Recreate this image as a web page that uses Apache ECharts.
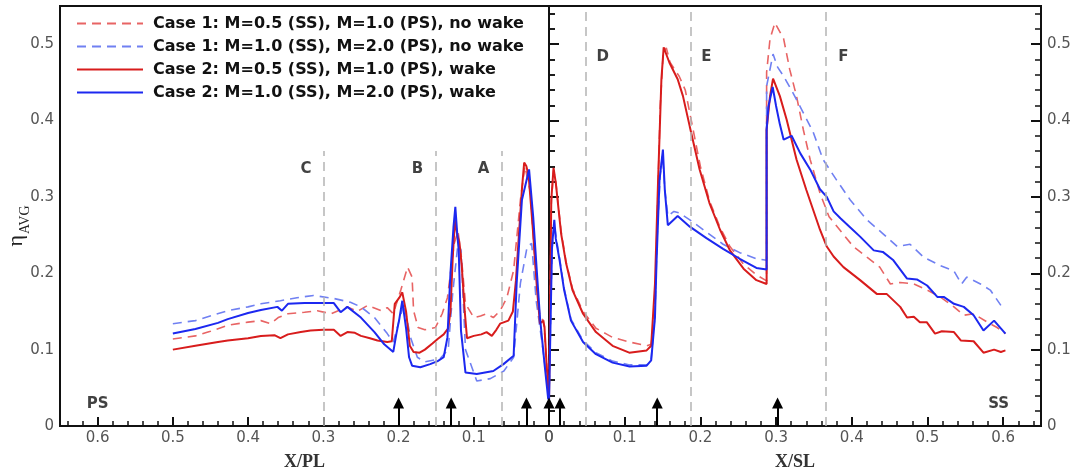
<!DOCTYPE html>
<html><head><meta charset="utf-8">
<script src="https://cdn.jsdelivr.net/npm/echarts/dist/echarts.min.js"></script>
<style>html,body{margin:0;padding:0;background:#fff}#c{width:1076px;height:473px}</style>
</head><body><div id="c"></div>
<script>
// ---------- DATA ----------
const seriesNames = [
  'Case 1: M=0.5 (SS), M=1.0 (PS), no wake',
  'Case 1: M=1.0 (SS), M=2.0 (PS), no wake',
  'Case 2: M=0.5 (SS), M=1.0 (PS), wake',
  'Case 2: M=1.0 (SS), M=2.0 (PS), wake'
];
// Pressure side (X/PL), [x, eta]
const psCase1M05 = [[0.5,0.114],[0.47,0.118],[0.45,0.124],[0.427,0.132],[0.40,0.136],[0.383,0.138],[0.37,0.134],[0.36,0.142],[0.347,0.147],[0.325,0.149],[0.308,0.151],[0.29,0.147],[0.268,0.156],[0.255,0.150],[0.241,0.158],[0.223,0.151],[0.215,0.155],[0.207,0.147],[0.197,0.178],[0.188,0.208],[0.182,0.195],[0.18,0.151],[0.174,0.129],[0.165,0.126],[0.151,0.129],[0.142,0.147],[0.135,0.168],[0.126,0.239],[0.121,0.255],[0.117,0.227],[0.111,0.16],[0.10,0.142],[0.091,0.144],[0.083,0.147],[0.074,0.142],[0.065,0.151],[0.056,0.168],[0.047,0.204],[0.038,0.296],[0.032,0.34],[0.025,0.307],[0.019,0.22],[0.012,0.142],[0.007,0.138],[0.003,0.08],[0,0.04]];
const psCase1M10 = [[0.5,0.134],[0.47,0.138],[0.427,0.151],[0.40,0.156],[0.383,0.160],[0.357,0.164],[0.335,0.168],[0.313,0.171],[0.286,0.167],[0.264,0.162],[0.25,0.156],[0.232,0.142],[0.215,0.121],[0.207,0.110],[0.2,0.135],[0.193,0.16],[0.184,0.116],[0.175,0.09],[0.165,0.084],[0.145,0.088],[0.134,0.1],[0.128,0.174],[0.121,0.239],[0.117,0.23],[0.111,0.1],[0.096,0.059],[0.078,0.062],[0.06,0.072],[0.047,0.09],[0.038,0.187],[0.029,0.235],[0.023,0.239],[0.017,0.164],[0.008,0.1],[0,0.037]];
const psCase2M05 = [[0.5,0.100],[0.47,0.105],[0.44,0.110],[0.427,0.112],[0.40,0.115],[0.383,0.118],[0.365,0.119],[0.357,0.115],[0.347,0.120],[0.33,0.123],[0.317,0.125],[0.30,0.126],[0.286,0.126],[0.277,0.118],[0.268,0.123],[0.258,0.122],[0.25,0.118],[0.238,0.115],[0.228,0.112],[0.215,0.110],[0.209,0.111],[0.205,0.160],[0.199,0.168],[0.195,0.175],[0.19,0.150],[0.185,0.105],[0.18,0.097],[0.172,0.096],[0.165,0.100],[0.155,0.108],[0.148,0.114],[0.14,0.120],[0.134,0.128],[0.131,0.150],[0.128,0.22],[0.125,0.27],[0.122,0.25],[0.119,0.24],[0.116,0.21],[0.112,0.15],[0.109,0.115],[0.10,0.118],[0.09,0.120],[0.083,0.123],[0.076,0.118],[0.07,0.126],[0.065,0.134],[0.054,0.138],[0.048,0.15],[0.044,0.19],[0.040,0.25],[0.036,0.31],[0.033,0.345],[0.030,0.340],[0.027,0.327],[0.024,0.29],[0.021,0.252],[0.016,0.18],[0.012,0.134],[0.008,0.138],[0.006,0.13],[0.003,0.077],[0.0,0.037]];
const psCase2M10 = [[0.5,0.121],[0.47,0.127],[0.44,0.135],[0.427,0.140],[0.40,0.148],[0.383,0.152],[0.361,0.156],[0.355,0.151],[0.347,0.160],[0.325,0.161],[0.304,0.161],[0.286,0.161],[0.277,0.149],[0.268,0.156],[0.25,0.142],[0.232,0.123],[0.219,0.107],[0.207,0.097],[0.203,0.12],[0.199,0.14],[0.195,0.164],[0.19,0.128],[0.186,0.09],[0.182,0.079],[0.171,0.077],[0.158,0.081],[0.148,0.085],[0.14,0.090],[0.135,0.116],[0.131,0.20],[0.127,0.26],[0.1245,0.287],[0.122,0.252],[0.12,0.23],[0.117,0.125],[0.111,0.070],[0.096,0.068],[0.085,0.070],[0.074,0.072],[0.0605,0.081],[0.047,0.092],[0.043,0.187],[0.036,0.296],[0.0265,0.336],[0.021,0.274],[0.016,0.2],[0.012,0.142],[0.0055,0.077],[0.001,0.035]];
// Suction side (X/SL), [x, eta]
const ssCase1M05 = [[0,0.035],[0.003,0.29],[0.006,0.335],[0.009,0.32],[0.016,0.255],[0.0226,0.215],[0.031,0.18],[0.045,0.15],[0.062,0.128],[0.075,0.121],[0.084,0.116],[0.1065,0.11],[0.129,0.105],[0.135,0.107],[0.14,0.151],[0.143,0.274],[0.147,0.42],[0.151,0.49],[0.155,0.495],[0.16,0.476],[0.172,0.458],[0.18,0.44],[0.19,0.39],[0.2,0.34],[0.212,0.295],[0.226,0.26],[0.239,0.235],[0.257,0.212],[0.274,0.198],[0.2875,0.19],[0.2875,0.463],[0.292,0.507],[0.2985,0.528],[0.31,0.507],[0.318,0.467],[0.327,0.432],[0.336,0.388],[0.345,0.349],[0.358,0.305],[0.37,0.274],[0.384,0.257],[0.402,0.235],[0.42,0.221],[0.437,0.208],[0.451,0.186],[0.464,0.188],[0.482,0.186],[0.4995,0.178],[0.517,0.169],[0.535,0.156],[0.548,0.145],[0.561,0.147],[0.579,0.136],[0.592,0.129],[0.603,0.121]];
const ssCase1M10 = [[0,0.035],[0.004,0.23],[0.007,0.265],[0.009,0.25],[0.014,0.22],[0.02,0.18],[0.029,0.14],[0.045,0.112],[0.062,0.096],[0.084,0.085],[0.1065,0.08],[0.129,0.08],[0.135,0.088],[0.14,0.145],[0.143,0.25],[0.147,0.33],[0.15,0.355],[0.153,0.31],[0.157,0.275],[0.165,0.281],[0.172,0.279],[0.186,0.27],[0.208,0.254],[0.23,0.238],[0.252,0.227],[0.274,0.219],[0.2875,0.217],[0.2875,0.445],[0.296,0.487],[0.302,0.47],[0.31,0.458],[0.323,0.435],[0.336,0.41],[0.349,0.385],[0.362,0.349],[0.38,0.322],[0.398,0.296],[0.42,0.27],[0.441,0.252],[0.46,0.235],[0.477,0.238],[0.495,0.221],[0.517,0.21],[0.535,0.203],[0.545,0.186],[0.552,0.195],[0.57,0.186],[0.583,0.178],[0.597,0.158]];
const ssCase2M05 = [[0,0.033],[0.003,0.296],[0.006,0.338],[0.009,0.318],[0.016,0.252],[0.0226,0.213],[0.031,0.178],[0.045,0.147],[0.062,0.123],[0.084,0.105],[0.106,0.096],[0.129,0.099],[0.135,0.105],[0.14,0.186],[0.144,0.318],[0.1485,0.454],[0.1515,0.496],[0.159,0.476],[0.17,0.454],[0.177,0.432],[0.186,0.392],[0.199,0.336],[0.212,0.292],[0.226,0.257],[0.239,0.23],[0.257,0.206],[0.274,0.191],[0.2875,0.186],[0.2875,0.388],[0.292,0.432],[0.296,0.455],[0.305,0.432],[0.314,0.401],[0.327,0.349],[0.34,0.309],[0.358,0.257],[0.367,0.235],[0.376,0.222],[0.389,0.208],[0.411,0.191],[0.433,0.173],[0.446,0.173],[0.464,0.156],[0.473,0.142],[0.482,0.143],[0.49,0.136],[0.499,0.136],[0.51,0.121],[0.519,0.124],[0.535,0.123],[0.544,0.112],[0.561,0.111],[0.574,0.096],[0.588,0.100],[0.597,0.097],[0.603,0.099]];
const ssCase2M10 = [[0,0.03],[0.004,0.235],[0.007,0.27],[0.009,0.245],[0.014,0.217],[0.02,0.178],[0.029,0.138],[0.045,0.11],[0.062,0.094],[0.084,0.083],[0.1065,0.078],[0.129,0.079],[0.135,0.086],[0.14,0.142],[0.142,0.213],[0.146,0.322],[0.1505,0.362],[0.153,0.309],[0.157,0.263],[0.17,0.275],[0.186,0.261],[0.208,0.246],[0.23,0.232],[0.252,0.219],[0.274,0.207],[0.2875,0.205],[0.2875,0.388],[0.29,0.419],[0.2955,0.444],[0.3,0.419],[0.305,0.395],[0.31,0.375],[0.3205,0.38],[0.332,0.357],[0.345,0.336],[0.358,0.31],[0.367,0.3],[0.376,0.281],[0.385,0.272],[0.397,0.261],[0.411,0.248],[0.429,0.23],[0.441,0.228],[0.455,0.217],[0.473,0.193],[0.486,0.192],[0.4995,0.184],[0.513,0.169],[0.5215,0.169],[0.535,0.16],[0.548,0.156],[0.561,0.145],[0.574,0.125],[0.588,0.138],[0.603,0.121]];
// region boundaries and labels
const regionLinesPS = [0.3, 0.151, 0.063];
const regionLinesPSTop = 0.36;
const regionLinesSS = [0.048, 0.187, 0.366];
const regionLinesSSTop = 0.55;
const regionLabelsPS = [['C',0.323,0.336],['B',0.175,0.336],['A',0.087,0.336],['PS',0.6,0.029]];
const regionLabelsSS = [['D',0.071,0.483],['E',0.208,0.483],['F',0.389,0.483],['SS',0.594,0.029]];
// cooling hole locations (arrows)
const holesPS = [0.2, 0.13, 0.03];
const holesSS = [0, 0.0145, 0.143, 0.302];
const arrowTop = 0.03;
const xTicks = [0, 0.1, 0.2, 0.3, 0.4, 0.5, 0.6];
const yTicks = [0, 0.1, 0.2, 0.3, 0.4, 0.5];

// ---------- STYLES ----------
const colors = ['#e86464', '#7080f2', '#d81c1c', '#1c28f0'];
const dashed = [true, true, false, false];

function fmtTick(list) {
  return function (v) {
    for (const t of list) if (Math.abs(v - t) < 1e-6) return t === 0 ? '0' : t.toFixed(1);
    return '';
  };
}
const labelStyle = {color: '#555', fontSize: 15, fontFamily: 'DejaVu Sans, sans-serif'};
function xAxis(grid, inverse, name) {
  return {
    type: 'value', gridIndex: grid, min: 0, max: 0.65, interval: 0.1, inverse: inverse,
    axisLine: {show: true, lineStyle: {color: '#111', width: 2}},
    axisTick: {show: true, inside: true, length: 9, lineStyle: {color: '#111', width: 2}},
    minorTick: {show: true, splitNumber: 5, length: 5, lineStyle: {color: '#111', width: 1.5}},
    splitLine: {show: false}, minorSplitLine: {show: false},
    axisLabel: Object.assign({margin: 5, formatter: fmtTick(xTicks), showMaxLabel: false}, labelStyle),
    name: name, nameLocation: 'middle', nameGap: 27,
    nameTextStyle: {fontFamily: 'Liberation Serif, Times New Roman, serif', fontSize: 18, fontWeight: 'bold', color: '#333'}
  };
}
function yAxis(grid, pos, showLabel) {
  return {
    type: 'value', gridIndex: grid, position: pos, min: 0, max: 0.55, interval: 0.1,
    axisLine: {show: true, lineStyle: {color: '#111', width: 2}},
    axisTick: {show: true, inside: true, length: 10, lineStyle: {color: '#111', width: 2}},
    minorTick: {show: true, splitNumber: 5, length: 6, lineStyle: {color: '#111', width: 1.5}},
    splitLine: {show: false}, minorSplitLine: {show: false},
    axisLabel: Object.assign({show: showLabel, margin: 6, formatter: fmtTick(yTicks), showMaxLabel: false}, labelStyle)
  };
}

const psData = [psCase1M05, psCase1M10, psCase2M05, psCase2M10];
const ssData = [ssCase1M05, ssCase1M10, ssCase2M05, ssCase2M10];
const series = [];
for (let i = 0; i < 4; i++) {
  const ls = {color: colors[i], width: dashed[i] ? 1.6 : 2, type: dashed[i] ? [9, 6] : 'solid'};
  series.push({name: seriesNames[i], type: 'line', xAxisIndex: 0, yAxisIndex: 0, data: psData[i],
    symbol: 'none', showSymbol: false, lineStyle: ls, itemStyle: {color: colors[i]}, z: dashed[i] ? 2 : 3, animation: false});
  series.push({name: seriesNames[i], type: 'line', xAxisIndex: 1, yAxisIndex: 1, data: ssData[i],
    symbol: 'none', showSymbol: false, lineStyle: ls, itemStyle: {color: colors[i]}, z: dashed[i] ? 2 : 3, animation: false});
}
function annot(xIdx, yIdx, labels, lines, top, holes) {
  return {
    type: 'scatter', xAxisIndex: xIdx, yAxisIndex: yIdx, clip: false, animation: false, silent: true, z: 5,
    data: labels.map(l => ({name: l[0], value: [l[1], l[2]]})),
    symbolSize: 1, itemStyle: {color: 'rgba(0,0,0,0)'},
    label: {show: true, position: 'inside', formatter: p => p.name, color: '#111', fontSize: 15, fontWeight: 'bold',
      fontFamily: 'DejaVu Sans, sans-serif'},
    markLine: {
      silent: true, animation: false, symbol: ['none', 'none'], label: {show: false},
      lineStyle: {color: '#b4b4b4', type: [9, 6], width: 1.5},
      data: lines.map(x => [{coord: [x, 0]}, {coord: [x, top]}]).concat(
        holes.map(x => [{coord: [x, 0], lineStyle: {color: '#000', type: 'solid', width: 2}, symbol: 'none'},
                        {coord: [x, arrowTop], symbol: 'triangle', symbolSize: [11, 11]}]))
    }
  };
}
series.push(annot(0, 0, regionLabelsPS, regionLinesPS, regionLinesPSTop, holesPS));
series.push(annot(1, 1, regionLabelsSS, regionLinesSS, regionLinesSSTop, holesSS));

const chart = echarts.init(document.getElementById('c'), null, {renderer: 'canvas'});
chart.setOption({
  backgroundColor: '#fff',
  animation: false,
  grid: [
    {left: 60, top: 6, width: 489, bottom: 47, show: true, borderColor: '#111', borderWidth: 2, containLabel: false, outerBoundsMode: 'none'},
    {left: 549, top: 6, width: 492, bottom: 47, show: true, borderColor: '#111', borderWidth: 2, containLabel: false, outerBoundsMode: 'none'}
  ],
  xAxis: [xAxis(0, true, 'X/PL'), xAxis(1, false, 'X/SL')],
  yAxis: [yAxis(0, 'left', true), yAxis(1, 'left', false), yAxis(1, 'right', true)],
  legend: {
    show: true, orient: 'vertical', left: 71, top: 9, itemWidth: 66, itemHeight: 14, itemGap: 4,
    data: seriesNames, selectedMode: false,
    itemStyle: {opacity: 0, borderWidth: 0},
    textStyle: {fontSize: 16, fontWeight: 'bold', color: '#111', fontFamily: 'DejaVu Sans, sans-serif', lineHeight: 19, padding: [0, 0, 0, 5]}
  },
  graphic: [{
    type: 'text', x: 19, y: 226, rotation: Math.PI / 2,
    style: {
      text: '{a|η}{b|AVG}', align: 'center', verticalAlign: 'middle',
      rich: {
        a: {fontSize: 22, fontFamily: 'Liberation Serif, serif', fill: '#222', verticalAlign: 'top', lineHeight: 22},
        b: {fontSize: 14, fontFamily: 'Liberation Serif, serif', fill: '#222', verticalAlign: 'bottom', padding: [13, 0, 0, 1]}
      }
    }
  }],
  series: series
});
</script></body></html>
